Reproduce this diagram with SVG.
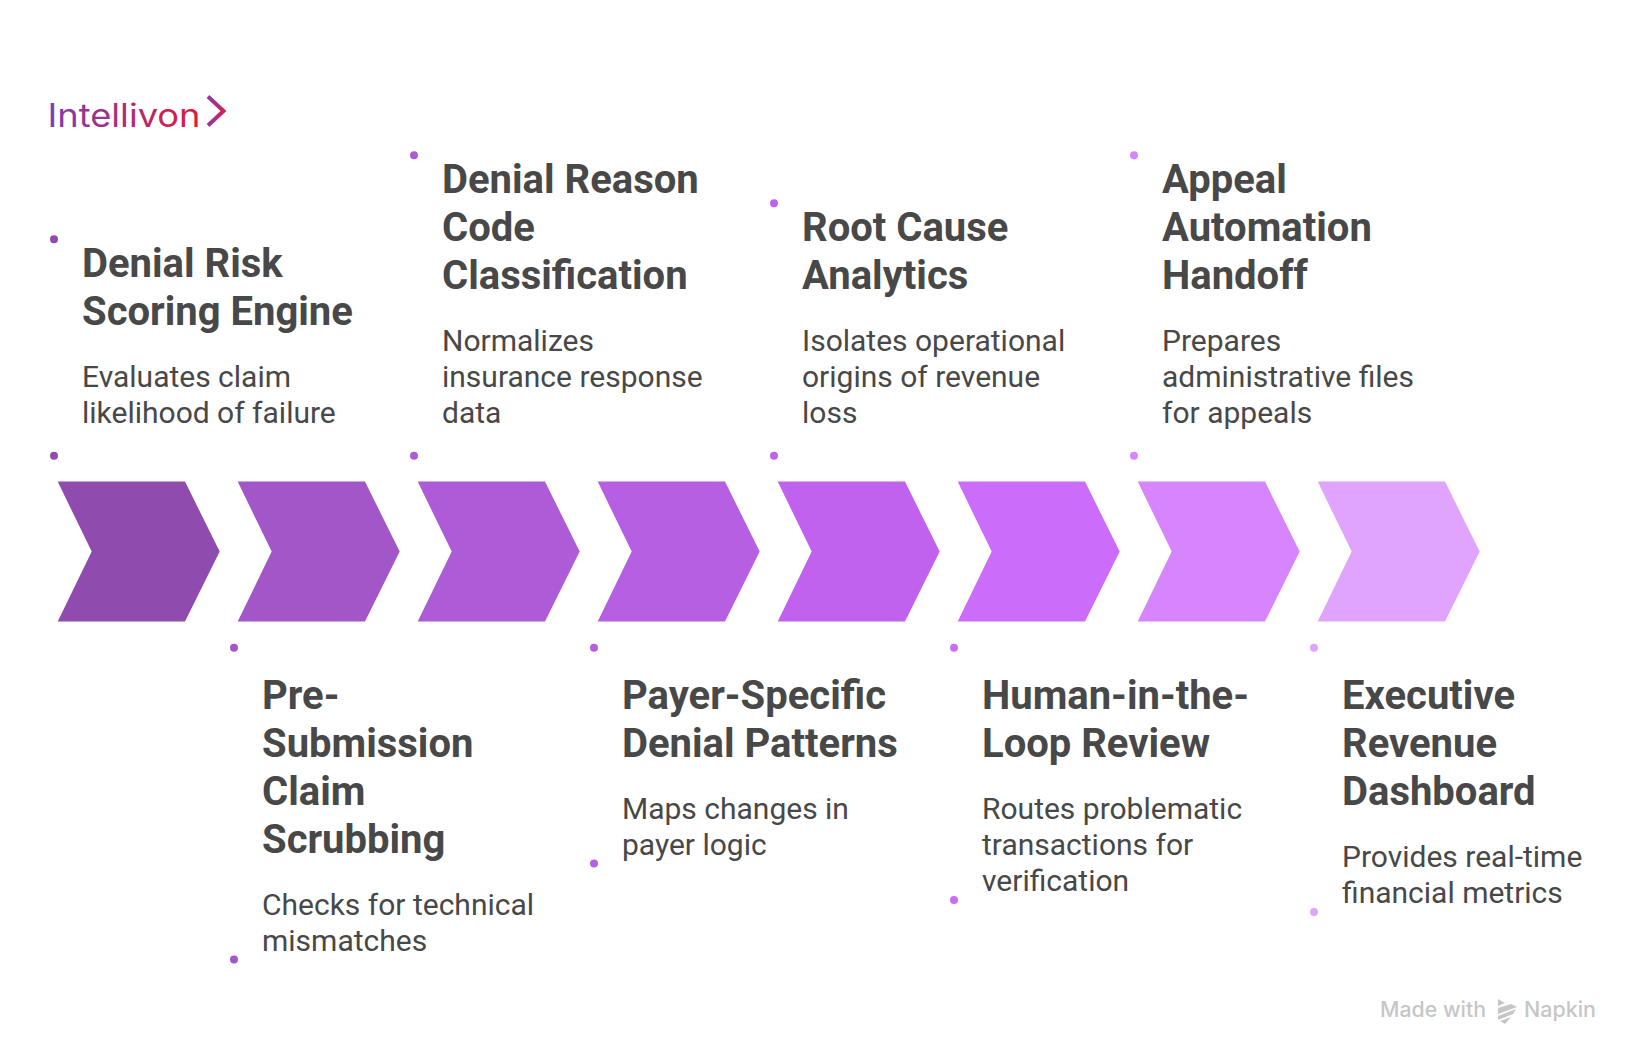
<svg xmlns="http://www.w3.org/2000/svg" width="1642" height="1062" viewBox="0 0 1642 1062">
<style>
text{font-family:Roboto,"Liberation Sans",sans-serif;fill:#484848}
.t{font-size:40px;font-weight:700}
.d{font-size:30px;font-weight:400}
.wm{font-family:Inter,sans-serif;font-size:21px;font-weight:500;fill:#c6c6c6}
</style>
<defs>
<linearGradient id="lg" gradientUnits="userSpaceOnUse" x1="49" y1="0" x2="200" y2="0"><stop offset="0" stop-color="#7b3fae"/><stop offset="1" stop-color="#e01a3c"/></linearGradient>
<linearGradient id="lc" gradientUnits="userSpaceOnUse" x1="0" y1="95" x2="0" y2="127"><stop offset="0" stop-color="#7f3fb0"/><stop offset="0.5" stop-color="#d0205f"/><stop offset="1" stop-color="#8a3cac"/></linearGradient>
<polygon id="c" points="0,0 127.3,0 162,70 127.3,140 0,140 34,70"/>
</defs>
<rect width="1642" height="1062" fill="#fff"/>
<g id="logo"><text x="47.5" y="126.7" textLength="153" lengthAdjust="spacingAndGlyphs" style="font-family:Inter,sans-serif;font-size:32px;font-weight:400;fill:url(#lg)">Intellivon</text>
<polyline points="208,96.5 223.5,111 208,125.5" fill="none" stroke="url(#lc)" stroke-width="4"/></g>
<g id="n1"><use href="#c" x="57.7" y="481.6" fill="#8f4bad"/><circle cx="54" cy="239.3" r="4" fill="#8f4bad"/><circle cx="54" cy="455.7" r="4" fill="#8f4bad"/>
<text class="t" x="82" y="276.7">Denial Risk</text><text class="t" x="82" y="324.7">Scoring Engine</text><text class="d" x="82" y="386.7">Evaluates claim</text><text class="d" x="82" y="422.7">likelihood of failure</text></g>
<g id="n2"><use href="#c" x="237.7" y="481.6" fill="#a356c7"/><circle cx="234" cy="647.7" r="4" fill="#a356c7"/><circle cx="234" cy="959.5" r="4" fill="#a356c7"/>
<text class="t" x="262" y="708.7">Pre-</text><text class="t" x="262" y="756.7">Submission</text><text class="t" x="262" y="804.7">Claim</text><text class="t" x="262" y="852.7">Scrubbing</text><text class="d" x="262" y="914.7">Checks for technical</text><text class="d" x="262" y="950.7">mismatches</text></g>
<g id="n3"><use href="#c" x="417.7" y="481.6" fill="#ae5bd8"/><circle cx="414" cy="155.3" r="4" fill="#ae5bd8"/><circle cx="414" cy="455.7" r="4" fill="#ae5bd8"/>
<text class="t" x="442" y="192.7">Denial Reason</text><text class="t" x="442" y="240.7">Code</text><text class="t" x="442" y="288.7">Classification</text><text class="d" x="442" y="350.7">Normalizes</text><text class="d" x="442" y="386.7">insurance response</text><text class="d" x="442" y="422.7">data</text></g>
<g id="n4"><use href="#c" x="597.7" y="481.6" fill="#b75fe3"/><circle cx="594" cy="647.7" r="4" fill="#b75fe3"/><circle cx="594" cy="863.5" r="4" fill="#b75fe3"/>
<text class="t" x="622" y="708.7">Payer-Specific</text><text class="t" x="622" y="756.7">Denial Patterns</text><text class="d" x="622" y="818.7">Maps changes in</text><text class="d" x="622" y="854.7">payer logic</text></g>
<g id="n5"><use href="#c" x="777.7" y="481.6" fill="#c062ee"/><circle cx="774" cy="203.3" r="4" fill="#c062ee"/><circle cx="774" cy="455.7" r="4" fill="#c062ee"/>
<text class="t" x="802" y="240.7">Root Cause</text><text class="t" x="802" y="288.7">Analytics</text><text class="d" x="802" y="350.7">Isolates operational</text><text class="d" x="802" y="386.7">origins of revenue</text><text class="d" x="802" y="422.7">loss</text></g>
<g id="n6"><use href="#c" x="957.7" y="481.6" fill="#cb6cfb"/><circle cx="954" cy="647.7" r="4" fill="#cb6cfb"/><circle cx="954" cy="900" r="4" fill="#cb6cfb"/>
<text class="t" x="982" y="708.7">Human-in-the-</text><text class="t" x="982" y="756.7">Loop Review</text><text class="d" x="982" y="818.7">Routes problematic</text><text class="d" x="982" y="854.7">transactions for</text><text class="d" x="982" y="890.7">verification</text></g>
<g id="n7"><use href="#c" x="1137.7" y="481.6" fill="#d685fe"/><circle cx="1134" cy="155.3" r="4" fill="#d685fe"/><circle cx="1134" cy="455.7" r="4" fill="#d685fe"/>
<text class="t" x="1162" y="192.7">Appeal</text><text class="t" x="1162" y="240.7">Automation</text><text class="t" x="1162" y="288.7">Handoff</text><text class="d" x="1162" y="350.7">Prepares</text><text class="d" x="1162" y="386.7">administrative files</text><text class="d" x="1162" y="422.7">for appeals</text></g>
<g id="n8"><use href="#c" x="1317.7" y="481.6" fill="#e0a3fe"/><circle cx="1314" cy="647.7" r="4" fill="#e0a3fe"/><circle cx="1314" cy="912" r="4" fill="#e0a3fe"/>
<text class="t" x="1342" y="708.7">Executive</text><text class="t" x="1342" y="756.7">Revenue</text><text class="t" x="1342" y="804.7">Dashboard</text><text class="d" x="1342" y="866.7">Provides real-time</text><text class="d" x="1342" y="902.7">financial metrics</text></g>
<g id="watermark"><text class="wm" x="1380" y="1016.7" textLength="106" lengthAdjust="spacingAndGlyphs">Made with</text>
<polygon points="1498,999 1505,1003 1498,1006" fill="#c6c6c6"/><polygon points="1498,1008 1511,1004 1517,1007 1498,1014" fill="#c6c6c6"/><polygon points="1498,1016 1516,1009 1513,1014 1498,1020" fill="#c6c6c6"/><polygon points="1500,1021 1511,1017 1505,1024" fill="#c6c6c6"/>
<text class="wm" x="1524" y="1016.7" textLength="72" lengthAdjust="spacingAndGlyphs">Napkin</text></g>
</svg>
